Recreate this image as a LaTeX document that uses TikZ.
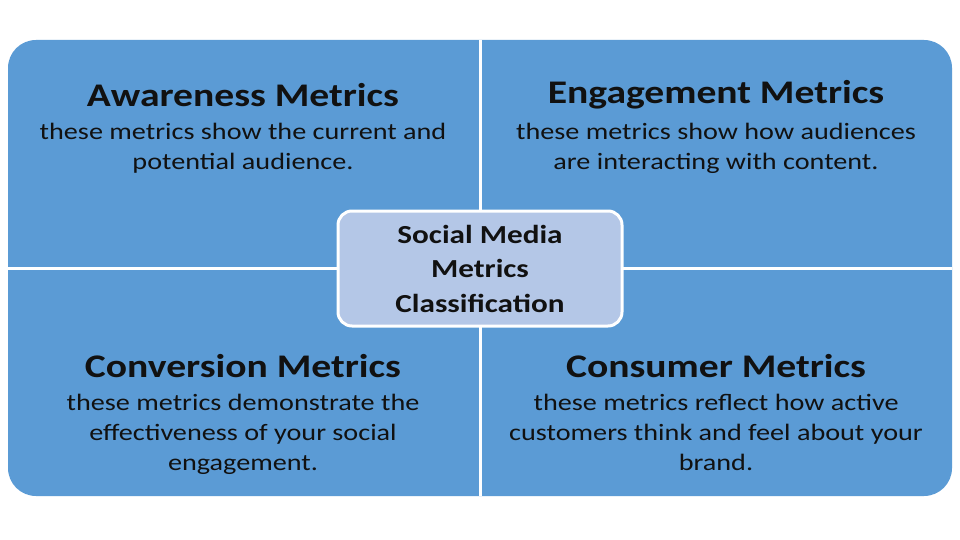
\documentclass[tikz,border=0pt]{standalone}
\usepackage{fontspec}
\setmainfont{Carlito}[FakeStretch=1.2]
\definecolor{qblue}{HTML}{5B9BD5}
\definecolor{cblue}{HTML}{B4C7E7}
\definecolor{txt}{HTML}{111111}
\begin{document}
\begin{tikzpicture}[x=1pt,y=-1pt,
  ttl/.style={font=\fontsize{33}{36}\selectfont\bfseries,text=txt,anchor=center},
  bdy/.style={font=\fontsize{23.5}{30}\selectfont,text=txt,align=center,anchor=north}]
\useasboundingbox (0,0) rectangle (960,540);
\fill[white] (0,0) rectangle (960,540);
\node[draw=none,fill=qblue,rounded corners=28pt,minimum width=944pt,minimum height=456pt,inner sep=0] (outer) at (480,268) {};
\coordinate (t) at (480,40); \coordinate (b) at (480,496);
\coordinate (l) at (8,268); \coordinate (r) at (952,268);
\draw[white,line width=3pt] (t) -- (b) (l) -- (r);
\node[draw=white,line width=3pt,fill=cblue,rounded corners=14pt,minimum width=284pt,minimum height=115pt,align=center,
  font=\fontsize{26}{34.5}\selectfont\bfseries,text=txt] (c) at (480,268.5) {Social Media\\Metrics\\Classification};
\node[ttl] (a1) at (243,95) {Awareness Metrics};
\node[bdy] (a2) at (243,120) {these metrics show the current and\\potential audience.};
\node[ttl] (e1) at (716,95) {Engagement Metrics};
\node[bdy] (e2) at (716,120) {these metrics show how audiences\\are interacting with content.};
\node[ttl] (v1) at (243,366) {Conversion Metrics};
\node[bdy] (v2) at (243,391) {these metrics demonstrate the\\effectiveness of your social\\engagement.};
\node[ttl] (m1) at (716,366) {Consumer Metrics};
\node[bdy] (m2) at (716,391) {these metrics reflect how active\\customers think and feel about your\\brand.};
\end{tikzpicture}
\end{document}
